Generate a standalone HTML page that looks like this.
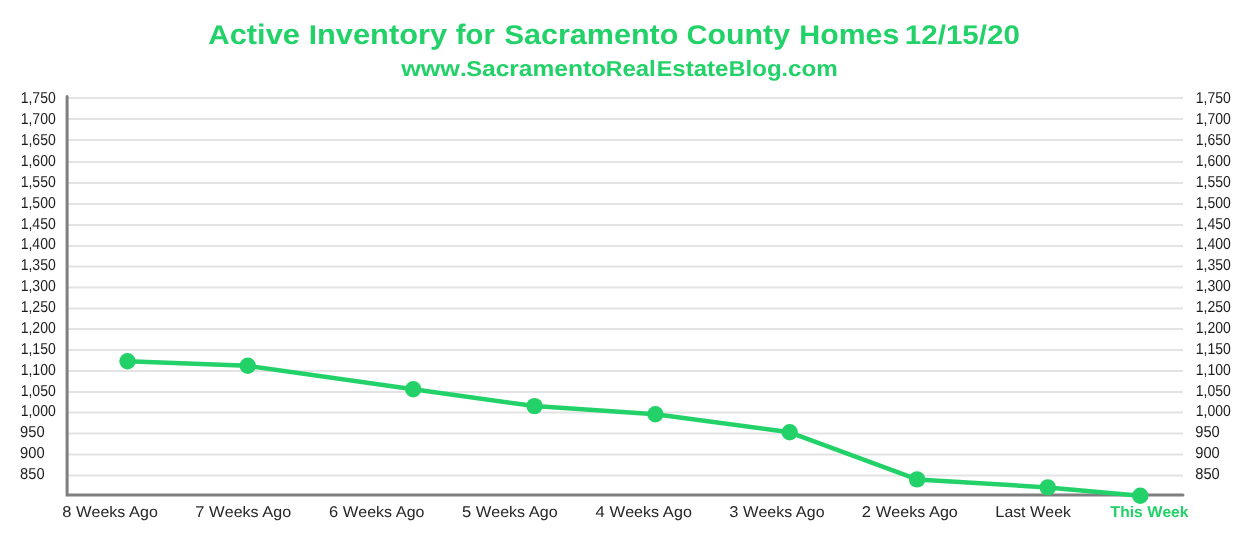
<!DOCTYPE html>
<html><head><meta charset="utf-8"><style>
html,body{margin:0;padding:0;background:#fff;width:1246px;height:552px;overflow:hidden}
svg{display:block;will-change:transform}
text{font-family:"Liberation Sans",sans-serif;text-rendering:geometricPrecision}
</style></head><body>
<svg width="1246" height="552" viewBox="0 0 1246 552">
<g fill="#22d168" font-weight="bold">
<g font-size="27">
<text x="208.37" y="44" textLength="91.63" lengthAdjust="spacingAndGlyphs">A<tspan font-size="28.2">ctive</tspan></text>
<text x="308.81" y="44" textLength="138.28" lengthAdjust="spacingAndGlyphs">I<tspan font-size="28.2">nventory</tspan></text>
<text x="455.72" y="44" textLength="39.11" lengthAdjust="spacingAndGlyphs"><tspan font-size="28.2">for</tspan></text>
<text x="504.42" y="44" textLength="173.97" lengthAdjust="spacingAndGlyphs">S<tspan font-size="28.2">acramento</tspan></text>
<text x="686.57" y="44" textLength="103.48" lengthAdjust="spacingAndGlyphs">C<tspan font-size="28.2">ounty</tspan></text>
<text x="799.35" y="44" textLength="99.88" lengthAdjust="spacingAndGlyphs">H<tspan font-size="28.2">omes</tspan></text>
<text x="904.86" y="44" textLength="114.97" lengthAdjust="spacingAndGlyphs">12/15/20</text>
</g>
<g font-size="21.5">
<text x="401.16" y="76" textLength="65.54" lengthAdjust="spacingAndGlyphs"><tspan font-size="22.3">www</tspan>.</text>
<text x="466.24" y="76" textLength="139.85" lengthAdjust="spacingAndGlyphs">S<tspan font-size="22.3">acramento</tspan></text>
<text x="605.81" y="76" textLength="49.95" lengthAdjust="spacingAndGlyphs">R<tspan font-size="22.3">eal</tspan></text>
<text x="656.89" y="76" textLength="71.45" lengthAdjust="spacingAndGlyphs">E<tspan font-size="22.3">state</tspan></text>
<text x="728.88" y="76" textLength="52.77" lengthAdjust="spacingAndGlyphs">B<tspan font-size="22.3">log</tspan></text>
<text x="781.44" y="76" textLength="56.32" lengthAdjust="spacingAndGlyphs">.<tspan font-size="22.3">com</tspan></text>
</g>
</g>
<g stroke="#e3e3e3" stroke-width="2">
<line x1="68" y1="98.00" x2="1183" y2="98.00"/>
<line x1="68" y1="119.00" x2="1183" y2="119.00"/>
<line x1="68" y1="140.00" x2="1183" y2="140.00"/>
<line x1="68" y1="162.00" x2="1183" y2="162.00"/>
<line x1="68" y1="183.00" x2="1183" y2="183.00"/>
<line x1="68" y1="204.00" x2="1183" y2="204.00"/>
<line x1="68" y1="225.00" x2="1183" y2="225.00"/>
<line x1="68" y1="246.00" x2="1183" y2="246.00"/>
<line x1="68" y1="266.50" x2="1183" y2="266.50"/>
<line x1="68" y1="287.50" x2="1183" y2="287.50"/>
<line x1="68" y1="308.50" x2="1183" y2="308.50"/>
<line x1="68" y1="329.00" x2="1183" y2="329.00"/>
<line x1="68" y1="350.00" x2="1183" y2="350.00"/>
<line x1="68" y1="371.00" x2="1183" y2="371.00"/>
<line x1="68" y1="392.00" x2="1183" y2="392.00"/>
<line x1="68" y1="412.50" x2="1183" y2="412.50"/>
<line x1="68" y1="433.50" x2="1183" y2="433.50"/>
<line x1="68" y1="454.50" x2="1183" y2="454.50"/>
<line x1="68" y1="475.50" x2="1183" y2="475.50"/>
</g>
<g fill="#1c1c1c" font-size="15.8">
<text x="20.69" y="103.40" textLength="35.062818967371584" lengthAdjust="spacingAndGlyphs">1,750</text>
<text x="20.69" y="124.27" textLength="35.062818967371584" lengthAdjust="spacingAndGlyphs">1,700</text>
<text x="20.69" y="145.14" textLength="35.062818967371584" lengthAdjust="spacingAndGlyphs">1,650</text>
<text x="20.69" y="166.01" textLength="35.062818967371584" lengthAdjust="spacingAndGlyphs">1,600</text>
<text x="20.69" y="186.88" textLength="35.062818967371584" lengthAdjust="spacingAndGlyphs">1,550</text>
<text x="20.69" y="207.75" textLength="35.062818967371584" lengthAdjust="spacingAndGlyphs">1,500</text>
<text x="20.69" y="228.62" textLength="35.062818967371584" lengthAdjust="spacingAndGlyphs">1,450</text>
<text x="20.69" y="249.49" textLength="35.062818967371584" lengthAdjust="spacingAndGlyphs">1,400</text>
<text x="20.69" y="270.36" textLength="35.062818967371584" lengthAdjust="spacingAndGlyphs">1,350</text>
<text x="20.69" y="291.23" textLength="35.062818967371584" lengthAdjust="spacingAndGlyphs">1,300</text>
<text x="20.69" y="312.10" textLength="35.062818967371584" lengthAdjust="spacingAndGlyphs">1,250</text>
<text x="20.69" y="332.97" textLength="35.062818967371584" lengthAdjust="spacingAndGlyphs">1,200</text>
<text x="20.69" y="353.84" textLength="35.062818967371584" lengthAdjust="spacingAndGlyphs">1,150</text>
<text x="20.69" y="374.71" textLength="35.062818967371584" lengthAdjust="spacingAndGlyphs">1,100</text>
<text x="20.69" y="395.58" textLength="35.062818967371584" lengthAdjust="spacingAndGlyphs">1,050</text>
<text x="20.69" y="416.45" textLength="35.062818967371584" lengthAdjust="spacingAndGlyphs">1,000</text>
<text x="20.12" y="437.32" textLength="24.52195271346176" lengthAdjust="spacingAndGlyphs">950</text>
<text x="20.12" y="458.19" textLength="24.52195271346176" lengthAdjust="spacingAndGlyphs">900</text>
<text x="20.12" y="479.06" textLength="24.52195271346176" lengthAdjust="spacingAndGlyphs">850</text>
<text x="1195.79" y="103.40" textLength="35.062818967371584" lengthAdjust="spacingAndGlyphs">1,750</text>
<text x="1195.79" y="124.27" textLength="35.062818967371584" lengthAdjust="spacingAndGlyphs">1,700</text>
<text x="1195.79" y="145.14" textLength="35.062818967371584" lengthAdjust="spacingAndGlyphs">1,650</text>
<text x="1195.79" y="166.01" textLength="35.062818967371584" lengthAdjust="spacingAndGlyphs">1,600</text>
<text x="1195.79" y="186.88" textLength="35.062818967371584" lengthAdjust="spacingAndGlyphs">1,550</text>
<text x="1195.79" y="207.75" textLength="35.062818967371584" lengthAdjust="spacingAndGlyphs">1,500</text>
<text x="1195.79" y="228.62" textLength="35.062818967371584" lengthAdjust="spacingAndGlyphs">1,450</text>
<text x="1195.79" y="249.49" textLength="35.062818967371584" lengthAdjust="spacingAndGlyphs">1,400</text>
<text x="1195.79" y="270.36" textLength="35.062818967371584" lengthAdjust="spacingAndGlyphs">1,350</text>
<text x="1195.79" y="291.23" textLength="35.062818967371584" lengthAdjust="spacingAndGlyphs">1,300</text>
<text x="1195.79" y="312.10" textLength="35.062818967371584" lengthAdjust="spacingAndGlyphs">1,250</text>
<text x="1195.79" y="332.97" textLength="35.062818967371584" lengthAdjust="spacingAndGlyphs">1,200</text>
<text x="1195.79" y="353.84" textLength="35.062818967371584" lengthAdjust="spacingAndGlyphs">1,150</text>
<text x="1195.79" y="374.71" textLength="35.062818967371584" lengthAdjust="spacingAndGlyphs">1,100</text>
<text x="1195.79" y="395.58" textLength="35.062818967371584" lengthAdjust="spacingAndGlyphs">1,050</text>
<text x="1195.79" y="416.45" textLength="35.062818967371584" lengthAdjust="spacingAndGlyphs">1,000</text>
<text x="1195.22" y="437.32" textLength="24.52195271346176" lengthAdjust="spacingAndGlyphs">950</text>
<text x="1195.22" y="458.19" textLength="24.52195271346176" lengthAdjust="spacingAndGlyphs">900</text>
<text x="1195.22" y="479.06" textLength="24.52195271346176" lengthAdjust="spacingAndGlyphs">850</text>
</g>
<path d="M67.1 96.5 V495 H1183" fill="none" stroke="#7f7f7f" stroke-width="3" stroke-linecap="round" stroke-linejoin="miter"/>
<polyline points="127.5,361.3 247.8,365.8 413.2,389.2 534.5,406.1 655.4,414.2 789.7,432.3 917.1,479.4 1047.8,487.4 1140.3,495.8" fill="none" stroke="#22d168" stroke-width="4.5" stroke-linejoin="round"/>
<g fill="#22d168">
<circle cx="127.5" cy="361.3" r="8.2"/>
<circle cx="247.8" cy="365.8" r="8.2"/>
<circle cx="413.2" cy="389.2" r="8.2"/>
<circle cx="534.5" cy="406.1" r="8.2"/>
<circle cx="655.4" cy="414.2" r="8.2"/>
<circle cx="789.7" cy="432.3" r="8.2"/>
<circle cx="917.1" cy="479.4" r="8.2"/>
<circle cx="1047.8" cy="487.4" r="8.2"/>
<circle cx="1140.3" cy="495.8" r="8.2"/>
</g>
<g fill="#262626" font-size="15.7">
<text x="62.22" y="517" textLength="95.59" lengthAdjust="spacingAndGlyphs">8 W<tspan font-size="15.2">eeks</tspan> A<tspan font-size="15.2">go</tspan></text>
<text x="195.24" y="517" textLength="95.99" lengthAdjust="spacingAndGlyphs">7 W<tspan font-size="15.2">eeks</tspan> A<tspan font-size="15.2">go</tspan></text>
<text x="328.98" y="517" textLength="95.42" lengthAdjust="spacingAndGlyphs">6 W<tspan font-size="15.2">eeks</tspan> A<tspan font-size="15.2">go</tspan></text>
<text x="461.95" y="517" textLength="95.71" lengthAdjust="spacingAndGlyphs">5 W<tspan font-size="15.2">eeks</tspan> A<tspan font-size="15.2">go</tspan></text>
<text x="595.64" y="517" textLength="96.23" lengthAdjust="spacingAndGlyphs">4 W<tspan font-size="15.2">eeks</tspan> A<tspan font-size="15.2">go</tspan></text>
<text x="729.20" y="517" textLength="95.31" lengthAdjust="spacingAndGlyphs">3 W<tspan font-size="15.2">eeks</tspan> A<tspan font-size="15.2">go</tspan></text>
<text x="861.82" y="517" textLength="95.99" lengthAdjust="spacingAndGlyphs">2 W<tspan font-size="15.2">eeks</tspan> A<tspan font-size="15.2">go</tspan></text>
<text x="995.36" y="517" textLength="75.45" lengthAdjust="spacingAndGlyphs">L<tspan font-size="15.2">ast</tspan> W<tspan font-size="15.2">eek</tspan></text>
</g>
<text x="1110.28" y="517" font-size="15.7" font-weight="bold" fill="#22d168" textLength="78.22" lengthAdjust="spacingAndGlyphs">T<tspan font-size="15.2">his</tspan> W<tspan font-size="15.2">eek</tspan></text>
</svg>
</body></html>
